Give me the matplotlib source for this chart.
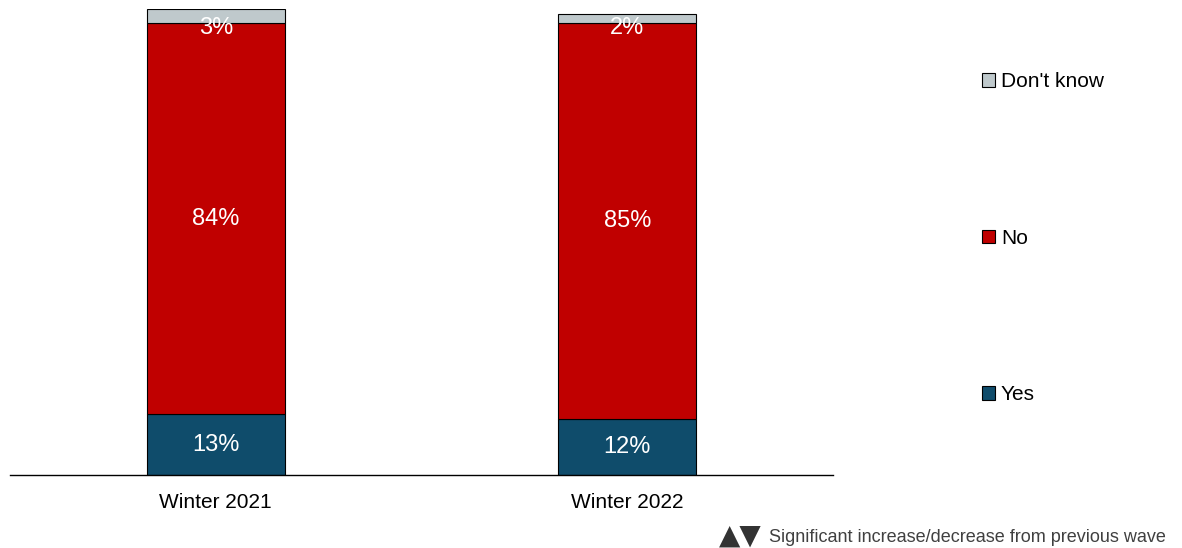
import matplotlib.pyplot as plt
import matplotlib.patches as mpatches

plt.rcParams['font.family'] = ['Liberation Sans', 'DejaVu Sans']

waves = ["Winter 2021", "Winter 2022"]
yes_vals = [13, 12]
no_vals = [84, 85]
dk_vals = [3, 2]

c_yes = '#0F4C6B'
c_no = '#C00000'
c_dk = '#BFC9CC'

fig = plt.figure(figsize=(11.82, 5.48), dpi=100)
ax = fig.add_axes([0.0085, 0.1332, 0.6963, 0.8504])

x = list(range(len(waves)))
bw = 0.336
ax.bar(x, yes_vals, bw, color=c_yes, edgecolor='black', linewidth=0.8, label='Yes')
ax.bar(x, no_vals, bw, bottom=yes_vals, color=c_no, edgecolor='black', linewidth=0.8, label='No')
bottoms = [a + b for a, b in zip(yes_vals, no_vals)]
ax.bar(x, dk_vals, bw, bottom=bottoms, color=c_dk, edgecolor='black', linewidth=0.8, label="Don't know")

for i in x:
    ax.text(i, yes_vals[i] / 2, f"{yes_vals[i]}%", ha='center', va='center', color='white', fontsize=17)
    ax.text(i, yes_vals[i] + no_vals[i] / 2, f"{no_vals[i]}%", ha='center', va='center', color='white', fontsize=17)
    ax.text(i, 96, f"{dk_vals[i]}%", ha='center', va='center', color='white', fontsize=17)

ax.set_xlim(-0.5, 1.5)
ax.set_ylim(0, 100)
ax.set_xticks(x)
ax.set_xticklabels(waves, fontsize=15)
ax.tick_params(axis='x', length=0, pad=13)
ax.set_yticks([])
for s in ['top', 'right', 'left']:
    ax.spines[s].set_visible(False)
ax.spines['bottom'].set_linewidth(1.0)

handles = [mpatches.Patch(facecolor=c, edgecolor='black', linewidth=0.8) for c in [c_dk, c_no, c_yes]]
fig.legend(handles, ["Don't know", "No", "Yes"], loc='upper left', bbox_to_anchor=(0.815, 0.902),
           frameon=False, fontsize=15, handlelength=0.6, handleheight=0.6, handletextpad=0.3,
           labelspacing=6.6)

fig.text(0.608, -0.002, "\u25B2\u25BC", fontsize=20, color='#333333', family='DejaVu Sans', va='bottom')
fig.text(0.651, 0.004, "Significant increase/decrease from previous wave", fontsize=13, color='#404040', va='bottom')

fig.savefig("out.png", dpi=100)
